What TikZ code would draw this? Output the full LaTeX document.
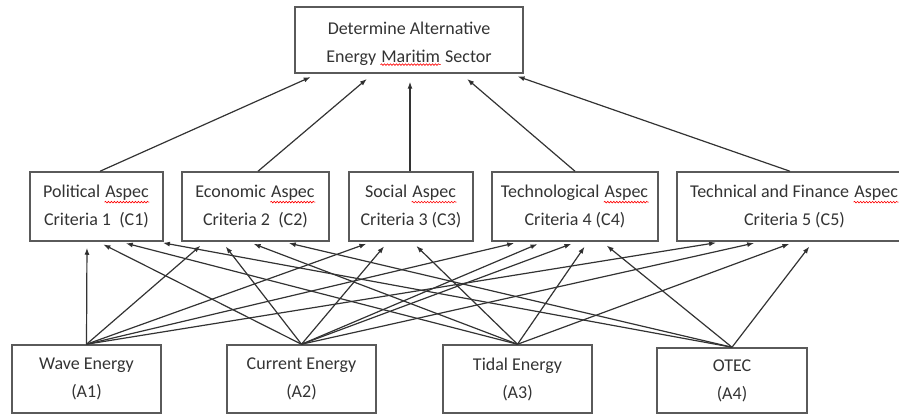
\documentclass[tikz,border=0pt]{standalone}
\usepackage{fontspec}
\setmainfont{Carlito}
\usetikzlibrary{arrows.meta,decorations.pathmorphing}

\definecolor{boxgray}{HTML}{5A5A5A}
\definecolor{linegray}{HTML}{333333}
\definecolor{txtgray}{HTML}{333333}
\newcommand\spellmark[1]{\tikz[baseline=(sw.base)]{\node[draw=none,inner sep=0pt,minimum width=0pt,minimum height=0pt] (sw) {#1};
  \draw[red,line width=0.6pt,decorate,decoration={snake,amplitude=0.8pt,segment length=3pt}] ([yshift=-1pt]sw.south west) -- ([yshift=-1pt]sw.south east);}}

\begin{document}
\begin{tikzpicture}[x=1pt,y=-1pt,
  every node/.style={draw=boxgray,line width=1.5pt,text=txtgray,align=center,inner sep=0pt,font=\fontsize{18}{28}\selectfont},
  goalbox/.style={minimum width=228pt,minimum height=66pt},
  critbox/.style={minimum height=69pt},
  altbox/.style={minimum width=149pt,minimum height=68pt},
  link/.style={draw=linegray,line width=1.2pt,-{Latex[length=7pt,width=5pt]}}]

\path[use as bounding box,clip] (0,0) rectangle (899,414);

% goal
\node[goalbox,label={[draw=none,yshift=-4pt]center:{Determine Alternative\\Energy \spellmark{Maritim} Sector}}] (goal) at (409,40) {};
% criteria
\node[critbox,minimum width=133pt] (polit) at (96.5,206.5) {Political \spellmark{Aspec}\\Criteria 1\ \ (C1)};
\node[critbox,minimum width=147pt] (econ) at (255.5,206.5) {Economic \spellmark{Aspec}\\Criteria 2\ \ (C2)};
\node[critbox,minimum width=124pt] (social) at (411,206.5) {Social \spellmark{Aspec}\\Criteria 3 (C3)};
\node[critbox,minimum width=166pt] (techno) at (575,206.5) {Technological \spellmark{Aspec}\\Criteria 4 (C4)};
\node[critbox,minimum width=235pt] (finance) at (794.5,206.5) {Technical and Finance \spellmark{Aspec}\\Criteria 5 (C5)};
% alternatives
\node[altbox] (wave) at (86.5,379) {Wave Energy\\(A1)};
\node[altbox] (current) at (301.5,379) {Current Energy\\(A2)};
\node[altbox] (tidal) at (517.5,379) {Tidal Energy\\(A3)};
\node[altbox,minimum width=150pt,minimum height=65pt] (otec) at (732,380.5) {OTEC\\(A4)};

\begin{scope}[every path/.style={link,shorten >=8pt}]
\path ([xshift=3.5pt]polit.north) -- ([xshift=-91pt]goal.south);
\path ([xshift=2.5pt]econ.north) -- ([xshift=-36pt]goal.south);
\path ([xshift=-1pt]social.north) -- ([xshift=1pt]goal.south);
\path (techno.north) -- ([xshift=52pt]goal.south);
\path ([xshift=-4.5pt]finance.north) -- ([xshift=101pt]goal.south);
\end{scope}

\begin{scope}[every path/.style={link,shorten >=6pt}]
% wave energy
\path (wave.north) -- ([xshift=-9.5pt]polit.south);
\path (wave.north) -- ([xshift=-50.5pt]econ.south);
\path (wave.north) -- ([xshift=-39pt]social.south);
\path (wave.north) -- ([xshift=-55pt]techno.south);
\path (wave.north) -- ([xshift=-72.5pt]finance.south);
% current energy
\path (current.north) -- ([xshift=1.5pt]polit.south);
\path (current.north) -- ([xshift=-33.5pt]econ.south);
\path (current.north) -- ([xshift=-23pt]social.south);
\path (current.north) -- ([xshift=-32pt]techno.south);
\path (current.north) -- ([xshift=2pt]techno.south);
\path (current.north) -- ([xshift=-34.5pt]finance.south);
% tidal energy
\path (tidal.north) -- ([xshift=23.5pt]polit.south);
\path (tidal.north) -- ([xshift=-7.5pt]econ.south);
\path (tidal.north) -- ([xshift=1pt]social.south);
\path (tidal.north) -- ([xshift=13pt]techno.south);
\path (tidal.north) -- ([xshift=0.5pt]finance.south);
% otec
\path (otec.north) -- ([xshift=60.5pt]polit.south);
\path (otec.north) -- ([xshift=27.5pt]econ.south);
\path (otec.north) -- ([xshift=27pt]techno.south);
\path (otec.north) -- ([xshift=18.5pt]finance.south);
\end{scope}

\end{tikzpicture}
\end{document}
